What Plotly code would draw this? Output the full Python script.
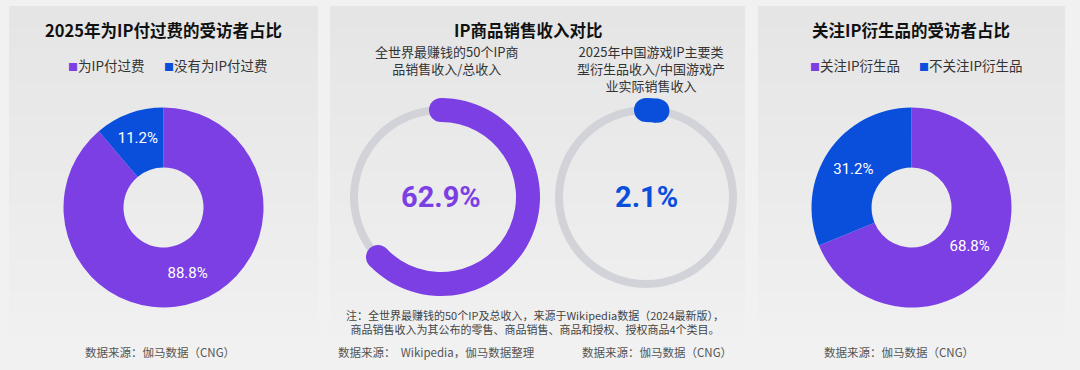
import plotly.graph_objects as go

W, H = 1080, 370

# ---------------- data ----------------
pay_labels = ["为IP付过费", "没有为IP付过费"]
pay_values = [88.8, 11.2]

deriv_labels = ["关注IP衍生品", "不关注IP衍生品"]
deriv_values = [68.8, 31.2]

gauge_labels = ["全世界最赚钱的50个IP商<br>品销售收入/总收入",
                "2025年中国游戏IP主要类<br>型衍生品收入/中国游戏产<br>业实际销售收入"]
gauge_values = [62.9, 2.1]

titles = ["2025年为IP付过费的受访者占比", "IP商品销售收入对比", "关注IP衍生品的受访者占比"]
sources = ["数据来源：伽马数据（CNG）", "数据来源：  Wikipedia，伽马数据整理",
           "数据来源：伽马数据（CNG）", "数据来源：伽马数据（CNG）"]
note_text = ("注：全世界最赚钱的50个IP及总收入，来源于Wikipedia数据（2024最新版），<br>"
             "商品销售收入为其公布的零售、商品销售、商品和授权、授权商品4个类目。")

# ---------------- style ----------------
PURPLE = "#7B3FE4"
BLUE = "#0A4FDC"
GRAY = "#D2D3D9"
PAGE_BG = "#F1F1F1"
CJK = "Noto Sans CJK SC, Noto Sans, sans-serif"
NUM = "Roboto, Noto Sans, sans-serif"


def px(x):
    return x / W


def py(y):
    return 1 - y / H


def dom(cx, cy, r):
    return dict(x=[px(cx - r), px(cx + r)], y=[py(cy + r), py(cy - r)])


fig = go.Figure()

# ---------------- panels (vertical gradient) ----------------
panels = [(9, 318), (330, 745), (758, 1065)]
top, bottom = 6, 336
nb = 30
c0, c1 = (0xE5, 0xE5, 0xE5), (0xF0, 0xF0, 0xF0)
shapes = []
for x0, x1 in panels:
    for i in range(nb):
        t = i / (nb - 1)
        col = tuple(int(round(a + (b - a) * t)) for a, b in zip(c0, c1))
        ya = top + (bottom - top) * i / nb
        yb = top + (bottom - top) * (i + 1) / nb + 0.6
        shapes.append(dict(type="rect", xref="paper", yref="paper",
                           x0=px(x0), x1=px(x1), y0=py(yb), y1=py(ya),
                           fillcolor="rgb(%d,%d,%d)" % col, line=dict(width=0),
                           layer="below"))

# ---------------- donut pies ----------------
for labels, values, (cx, cy) in [(pay_labels, pay_values, (163.5, 207.5)),
                                 (deriv_labels, deriv_values, (911.5, 207.5))]:
    fig.add_trace(go.Pie(
        labels=labels, values=values, hole=0.4, sort=False,
        direction="clockwise", rotation=0,
        marker=dict(colors=[PURPLE, BLUE], line=dict(width=0)),
        texttemplate="%{value}%", textposition="inside",
        insidetextorientation="horizontal",
        textfont=dict(family=NUM, size=15, color="white"),
        domain=dom(cx, cy, 100), showlegend=False, hoverinfo="skip"))

# ---------------- gauges ----------------
gauge_centers = [(441, 197), (646, 197)]
gauge_colors = [PURPLE, BLUE]
annotations = []
layout_polar = {}
for k, (val, (cx, cy), colr) in enumerate(zip(gauge_values, gauge_centers, gauge_colors)):
    sub = "polar" if k == 0 else "polar%d" % (k + 1)
    span = val / 100 * 360
    fig.add_trace(go.Barpolar(r=[8], base=[83], theta=[180], width=[360],
                              marker=dict(color=GRAY, line=dict(width=0)),
                              subplot=sub, showlegend=False, hoverinfo="skip"))
    fig.add_trace(go.Barpolar(r=[24], base=[75], theta=[span / 2], width=[span],
                              marker=dict(color=colr, line=dict(width=0)),
                              subplot=sub, showlegend=False, hoverinfo="skip"))
    fig.add_trace(go.Scatterpolar(r=[87, 87], theta=[0, span], mode="markers",
                                  marker=dict(size=24, color=colr, line=dict(width=0)),
                                  subplot=sub, showlegend=False, hoverinfo="skip"))
    layout_polar[sub] = dict(
        domain=dom(cx, cy, 100), bgcolor="rgba(0,0,0,0)",
        radialaxis=dict(range=[0, 100], visible=False),
        angularaxis=dict(direction="clockwise", rotation=90, visible=False))
    annotations.append(dict(x=px(cx), y=py(cy), xref="paper", yref="paper",
                            text="<b>%s%%</b>" % val, showarrow=False,
                            font=dict(family=NUM, size=29, color=colr),
                            xanchor="center", yanchor="middle"))

# ---------------- texts ----------------
for t, cx in zip(titles, [163.5, 527.5, 911]):
    annotations.append(dict(x=px(cx), y=py(30), xref="paper", yref="paper",
                            text="<b>%s</b>" % t, showarrow=False,
                            font=dict(family=CJK, size=16.5, color="#111111"),
                            xanchor="center", yanchor="middle"))

# legends
for labels, xs in [(pay_labels, [66, 162]), (deriv_labels, [808, 917])]:
    for lab, colr, x in zip(labels, [PURPLE, BLUE], xs):
        annotations.append(dict(
            x=px(x), y=py(65), xref="paper", yref="paper", showarrow=False,
            text="<span style='color:%s;font-size:10px'>■</span>%s" % (colr, lab),
            font=dict(family=CJK, size=13.5, color="#333333"),
            xanchor="left", yanchor="middle"))

# gauge subtitles
for lab, cx in zip(gauge_labels, [447, 651]):
    annotations.append(dict(x=px(cx), y=py(40), xref="paper", yref="paper",
                            text=lab, showarrow=False, align="center",
                            font=dict(family=CJK, size=13, color="#333333"),
                            xanchor="center", yanchor="top"))

# note
annotations.append(dict(x=px(535), y=py(321.5), xref="paper", yref="paper",
                        text=note_text, showarrow=False, align="center",
                        font=dict(family=CJK, size=11, color="#444444"),
                        xanchor="center", yanchor="middle"))

# sources
for s, cx in zip(sources, [160, 436, 657, 899]):
    annotations.append(dict(x=px(cx), y=py(352), xref="paper", yref="paper",
                            text=s, showarrow=False,
                            font=dict(family=CJK, size=11.5, color="#555555"),
                            xanchor="center", yanchor="middle"))

fig.update_layout(
    width=W, height=H, margin=dict(l=0, r=0, t=0, b=0),
    paper_bgcolor=PAGE_BG, plot_bgcolor=PAGE_BG,
    shapes=shapes, annotations=annotations, showlegend=False,
    **layout_polar)

fig.write_html("out.html",
               config={"displayModeBar": False},
               post_script="document.body.style.margin='0';"
                           "document.body.style.background='%s';" % PAGE_BG)
